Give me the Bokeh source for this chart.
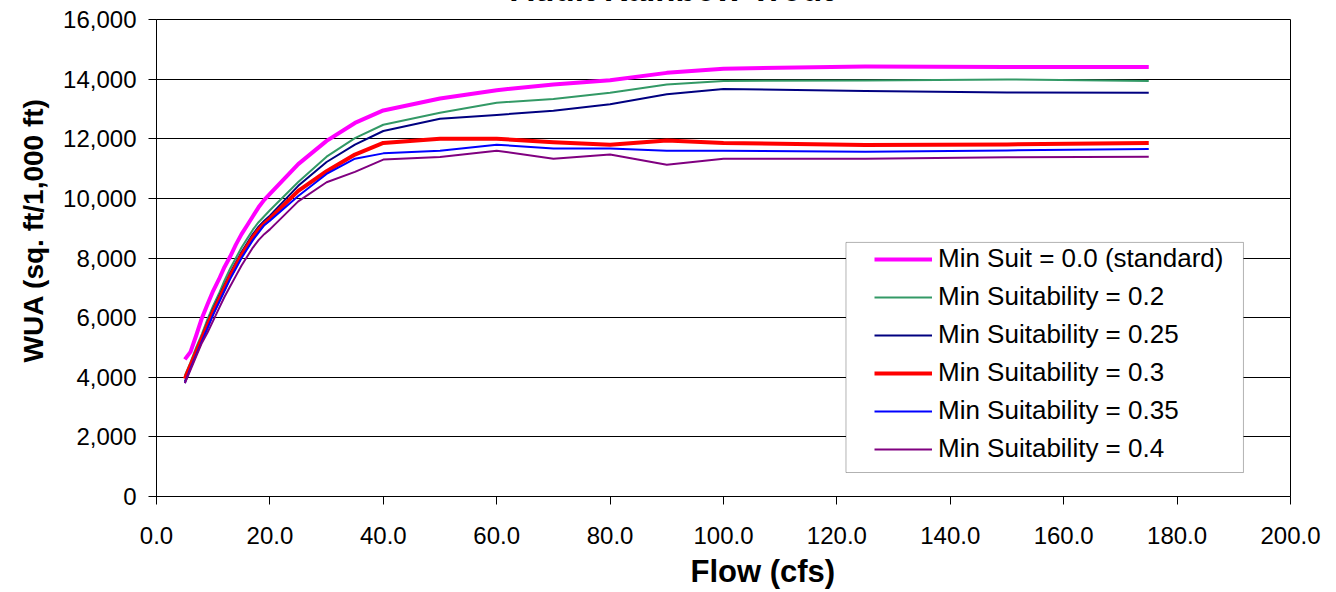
from bokeh.plotting import figure
from bokeh.models import (Legend, LegendItem, BoxAnnotation, Title, NumeralTickFormatter,
                          SingleIntervalTicker, Range1d)
from bokeh.embed import file_html
from bokeh.resources import INLINE

# ---------------- data ----------------
flow = [5, 6, 7, 8, 9, 10, 11, 12, 13, 14, 15, 16, 17, 18, 19, 20,
        25, 30, 35, 40, 50, 60, 70, 80, 90, 100, 125, 150, 175]

suit_00 = [4600, 4850, 5400, 5980, 6450, 6900, 7280, 7700, 8050, 8450, 8800, 9100, 9400, 9700, 9950, 10150,
           11150, 11930, 12530, 12950, 13350, 13630, 13820, 13960, 14210, 14350, 14420, 14410, 14410]
suit_02 = [4050, 4500, 5000, 5450, 5950, 6400, 6800, 7250, 7650, 8000, 8350, 8650, 8950, 9200, 9400, 9600,
           10550, 11400, 12020, 12470, 12870, 13210, 13330, 13540, 13820, 13940, 13950, 13990, 13940]
suit_025 = [3850, 4350, 4900, 5350, 5850, 6300, 6700, 7100, 7500, 7850, 8200, 8500, 8800, 9050, 9250, 9420,
            10420, 11220, 11800, 12260, 12670, 12800, 12940, 13160, 13490, 13670, 13600, 13550, 13540]
suit_03 = [3950, 4400, 4850, 5300, 5750, 6200, 6600, 7000, 7400, 7750, 8100, 8400, 8700, 8950, 9150, 9320,
           10250, 10910, 11470, 11860, 12000, 12000, 11880, 11800, 11940, 11860, 11790, 11810, 11860]
suit_035 = [3800, 4300, 4750, 5200, 5650, 6100, 6500, 6900, 7300, 7650, 8000, 8300, 8600, 8850, 9100, 9250,
            10080, 10820, 11330, 11510, 11600, 11800, 11670, 11670, 11600, 11600, 11560, 11610, 11660]
suit_04 = [3800, 4250, 4700, 5150, 5500, 5900, 6300, 6700, 7050, 7400, 7750, 8050, 8350, 8600, 8800, 8960,
           9900, 10540, 10890, 11300, 11390, 11600, 11330, 11470, 11130, 11330, 11330, 11380, 11400]

series_names = ["Min Suit = 0.0 (standard)", "Min Suitability = 0.2", "Min Suitability = 0.25",
                "Min Suitability = 0.3", "Min Suitability = 0.35", "Min Suitability = 0.4"]
series_values = [suit_00, suit_02, suit_025, suit_03, suit_035, suit_04]

title_text = "Adult Rainbow Trout"
x_title = "Flow (cfs)"
y_title = "WUA (sq. ft/1,000 ft)"

# ---------------- styles ----------------
colors = ["#FF00FF", "#339966", "#000080", "#FF0000", "#0000FF", "#800080"]
widths = [4, 2, 2, 4, 2, 2]
FONT = "Liberation Sans"
SHIFT = 48   # the title sits mostly above the visible page, as in the reference
EXTRA = 14   # extra room below for the x-axis title

p = figure(width=1336, height=592 + SHIFT + EXTRA, output_backend="svg", toolbar_location=None,
           x_range=Range1d(0, 200), y_range=Range1d(0, 16000),
           min_border_left=156, min_border_right=46, min_border_top=19 + SHIFT,
           min_border_bottom=96 + EXTRA,
           styles={"margin-top": f"-{SHIFT}px", "margin-bottom": f"-{EXTRA}px"})

p.background_fill_color = "white"
p.border_fill_color = "white"
p.outline_line_color = "#000000"
p.outline_line_width = 1

# title (top, partly outside the page)
p.title.text = title_text
p.title.align = "left"
p.title.offset = 354
p.title.standoff = 23
p.title.vertical_align = "bottom"
p.title.text_font = FONT
p.title.text_font_size = "33px"
p.title.text_font_style = "bold"
p.title.text_color = "black"

# axes
p.xaxis.ticker = SingleIntervalTicker(interval=20)
p.yaxis.ticker = SingleIntervalTicker(interval=2000)
p.xaxis.formatter = NumeralTickFormatter(format="0.0")
p.yaxis.formatter = NumeralTickFormatter(format="0,0")
for ax in (p.xaxis, p.yaxis):
    ax.axis_line_color = "black"
    ax.axis_line_width = 1
    ax.major_tick_line_color = "black"
    ax.major_tick_in = 0
    ax.minor_tick_line_color = None
    ax.major_label_text_font = FONT
    ax.major_label_text_font_size = "24px"
    ax.major_label_text_color = "black"
p.xaxis.major_tick_out = 8
p.yaxis.major_tick_out = 8
p.xaxis.major_label_standoff = 22
p.yaxis.major_label_standoff = 12

# axis titles as side titles (allow offsets like the reference)
p.add_layout(Title(text=x_title, align="left", offset=534, vertical_align="top", standoff=14,
                   text_font=FONT, text_font_size="31px", text_font_style="bold",
                   text_color="black"), "below")
p.add_layout(Title(text=y_title, align="left", offset=134, vertical_align="bottom", standoff=24,
                   text_font=FONT, text_font_size="28px", text_font_style="bold",
                   text_color="black"), "left")

# grid
p.xgrid.grid_line_color = None
p.ygrid.grid_line_color = "#000000"
p.ygrid.grid_line_width = 1

# legend frame (drawn first so the legend sits on top)
box = BoxAnnotation(left=121.6, right=191.7, bottom=805, top=8523,
                    fill_color="white", fill_alpha=1.0,
                    line_color="black", line_width=1)
p.add_layout(box)

items = []
for name, vals, c, w in zip(series_names, series_values, colors, widths):
    r = p.line(flow, vals, line_color=c, line_width=w, line_join="round")
    items.append(LegendItem(label=name, renderers=[r]))

legend = Legend(items=items, location=(718, 32), orientation="vertical",
                border_line_color=None, background_fill_alpha=0,
                padding=10, margin=0, spacing=7,
                label_height=26, glyph_height=26, glyph_width=58, label_standoff=6,
                label_text_font=FONT, label_text_font_size="26px", label_text_color="black")
p.add_layout(legend, "center")

open("out.html", "w").write(file_html(p, INLINE))
